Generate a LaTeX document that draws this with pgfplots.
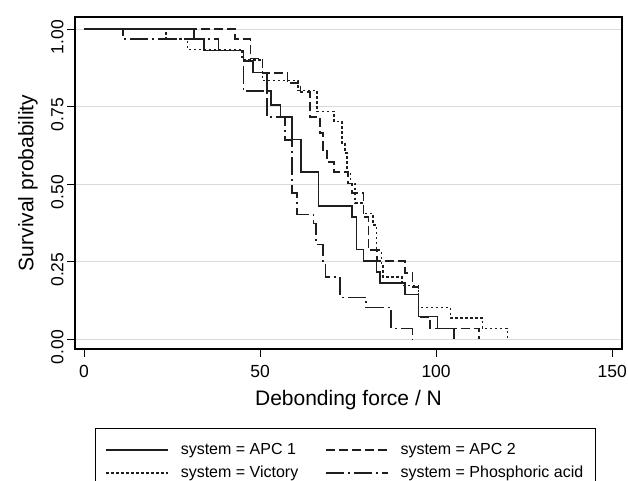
\documentclass[border=0pt]{standalone}
\usepackage{fontspec}
\setmainfont{Liberation Sans}
\usepackage{pgfplots}
\pgfplotsset{compat=1.18}
\definecolor{gridgray}{HTML}{DADADA}
\definecolor{ink}{HTML}{1E1E1E}

\begin{document}
\begin{tikzpicture}
\useasboundingbox (0pt,0pt) rectangle (628pt,481pt);
\clip (0pt,0pt) rectangle (628pt,481pt);
\begin{axis}[
  at={(75pt,132pt)}, anchor=south west,
  scale only axis, width=547pt, height=332pt,
  xmin=-2.56, xmax=152.8, ymin=-0.032, ymax=1.039,
  xtick={0,50,100,150}, xticklabels={0,50,100,150},
  ytick={0,0.25,0.5,0.75,1}, yticklabels={0.00,0.25,0.50,0.75,1.00},
  tick pos=left, tick align=outside, major tick length=8pt,
  ymajorgrids, grid style={gridgray, line width=1pt},
  axis line style={line width=1.2pt},
  tick style={black, line width=1pt},
  ticklabel style={font=\fontsize{17.5}{20}\selectfont},
  xticklabel style={yshift=-5pt},
  yticklabel style={rotate=90, anchor=south, xshift=-8pt},
  xlabel={Debonding force / N},
  ylabel={Survival probability},
  label style={font=\fontsize{21}{24}\selectfont},
  xlabel style={at={(axis description cs:0.5,-0.1536)}, anchor=center},
  ylabel style={at={(axis description cs:-0.0859,0.5)}, anchor=center},
  legend columns=2, legend cell align=left,
  legend image code/.code={\draw[#1] (0pt,0pt) -- (62pt,0pt);},
  legend style={at={(axis description cs:0.0366,-0.238)}, anchor=north west,
    draw=black, line width=1pt, fill=white,
    font=\fontsize{16}{19}\selectfont,
    inner xsep=10pt, inner ysep=12pt, row sep=4pt,
    nodes={inner sep=2pt, text height=11.5pt, text depth=3.5pt},
    /tikz/every odd column/.append style={column sep=10pt},
    /tikz/every even column/.append style={column sep=25pt}},
]
% APC 1
\addplot[const plot mark left, ink, line width=1.25pt, mark=none] coordinates {
(0,1) (31.25,0.968) (34.1,0.932) (45.2,0.897) (48.0,0.861) (52.0,0.800) (53.1,0.755)
(55.7,0.716) (59.1,0.645) (61.6,0.539) (66.5,0.429) (76.1,0.394) (77.3,0.290)
(79.3,0.252) (83.0,0.216) (84.1,0.181) (91.2,0.145) (94.9,0.074) (100.3,0.035) (105.1,0)
};
\addlegendentry{system = APC 1}
% APC 2
\addplot[const plot mark left, ink, line width=1.25pt, mark=none, dash pattern=on 9pt off 4pt] coordinates {
(0,1) (42.9,0.968) (47.2,0.906) (50.6,0.858) (57.7,0.826) (61.4,0.797) (64.2,0.716)
(67.0,0.665) (67.9,0.610) (69.0,0.571) (71.0,0.539) (75.0,0.503) (76.1,0.471)
(79.3,0.394) (80.7,0.287) (83.2,0.252) (91.2,0.213) (93.2,0.168) (94.9,0.071)
(98.3,0.035) (112.2,0)
};
\addlegendentry{system = APC 2}
% Victory
\addplot[const plot mark left, ink, line width=1.25pt, mark=none, dash pattern=on 2.5pt off 2.5pt] coordinates {
(0,1) (23.3,0.968) (29.3,0.935) (44.9,0.900) (50.6,0.835) (60.8,0.803) (66.2,0.735)
(71.0,0.703) (73.3,0.632) (74.1,0.600) (74.7,0.539) (75.6,0.503) (77.0,0.439)
(79.3,0.406) (82.1,0.368) (83.0,0.287) (84.4,0.245) (84.9,0.200) (90.3,0.174)
(94.9,0.103) (104.0,0.068) (113.1,0.035) (120.2,0)
};
\addlegendentry{system = Victory}
% Phosphoric acid
\addplot[const plot mark left, ink, line width=1.25pt, mark=none, dash pattern=on 18pt off 4pt on 2pt off 4pt] coordinates {
(0,1) (11.1,0.968) (38.1,0.932) (45.2,0.800) (52.0,0.716) (57.1,0.642) (59.1,0.471)
(60.5,0.403) (65.1,0.374) (65.9,0.306) (67.9,0.252) (68.5,0.200) (72.7,0.135)
(80.1,0.103) (87.2,0.035) (93.2,0)
};
\addlegendentry{system = Phosphoric acid}
\end{axis}
\end{tikzpicture}
\end{document}
